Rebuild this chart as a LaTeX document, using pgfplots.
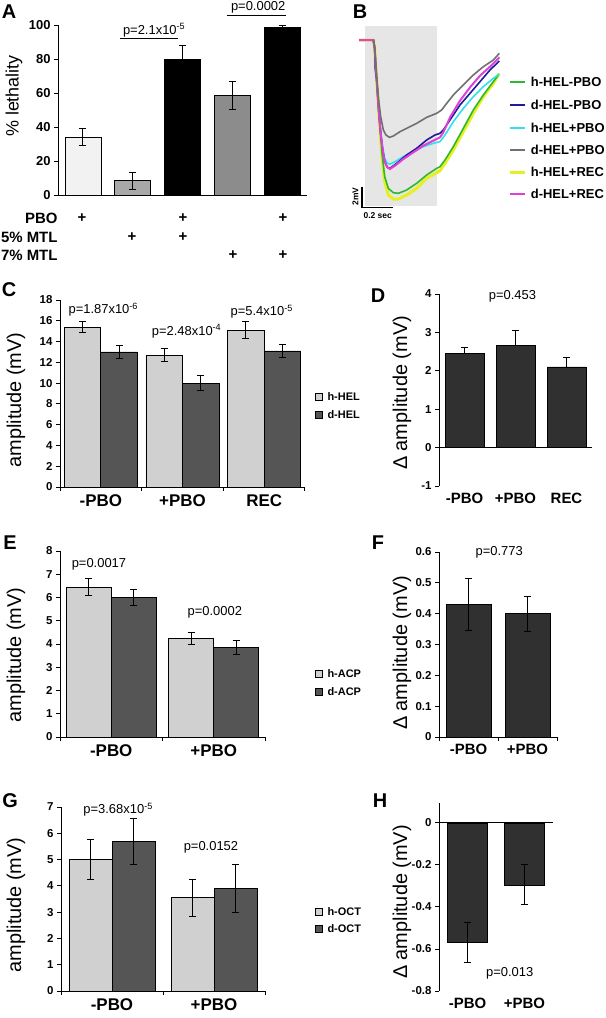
\documentclass[border=0pt]{standalone}
\usepackage{fontspec}
\setmainfont{Liberation Sans}
\usepackage{pgfplots}
\pgfplotsset{compat=1.18}

\definecolor{aone}{HTML}{F2F2F2}
\definecolor{atwo}{HTML}{A8A8A8}
\definecolor{afour}{HTML}{8C8C8C}
\definecolor{lightbar}{HTML}{D0D0D0}
\definecolor{darkbar}{HTML}{555555}
\definecolor{deltabar}{HTML}{303030}
\definecolor{bgshade}{HTML}{E6E6E6}
\definecolor{tgreen}{HTML}{2DB82D}
\definecolor{tblue}{HTML}{1C1C9C}
\definecolor{tcyan}{HTML}{30E0F0}
\definecolor{tgray}{HTML}{707070}
\definecolor{tyellow}{HTML}{E6F020}
\definecolor{tpink}{HTML}{E040D8}

\newcommand\fs[1]{\fontsize{#1}{#1}\selectfont}

\pgfplotsset{
  panel/.style={
    scale only axis, clip=false, anchor=south west,
    axis x line*=bottom, axis y line*=left,
    axis line style={line width=1bp, black},
    tick align=outside,
    major tick length=4bp, minor tick length=4bp,
    tick style={line width=1bp, black},
    major x tick style={draw=none},
    /pgf/number format/assume math mode=true,
    yticklabel style={font=\bfseries\fs{11.5}},
    xticklabel style={font=\bfseries\fs{17}},
    ybar=0pt,
    every axis plot/.append style={draw=black, line width=0.7bp},
    error bars/y dir=both, error bars/y explicit,
    error bars/error mark=-,
    error bars/error bar style={line width=1bp, black},
    error bars/error mark options={rotate=90, mark size=3.5bp, line width=1bp, black},
  },
  delta/.style={
    xticklabel style={font=\bfseries\fs{15}},
  },
}

\begin{document}
\begin{tikzpicture}
\useasboundingbox (0,0) rectangle (606bp,-1018bp);

% ---------------- A
\begin{axis}[panel, at={(58bp,-195bp)}, width=249bp, height=170bp,
  xmin=-0.5, xmax=4.5, ymin=0, ymax=100, ytick={0,20,...,100},
  xtick=\empty, minor xtick={-0.5,0.5,1.5,2.5,3.5,4.5}, bar width=36bp,
  yticklabel style={font=\bfseries\fs{13}}]
  \addplot[fill=aone, bar shift=0pt] coordinates {(0,34) +- (0,5)};
  \addplot[fill=atwo, bar shift=0pt] coordinates {(1,8.5) +- (0,5)};
  \addplot[fill=black, bar shift=0pt] coordinates {(2,80) +- (0,8)};
  \addplot[fill=afour, bar shift=0pt] coordinates {(3,58.5) +- (0,8.3)};
  \addplot[fill=black, bar shift=0pt] coordinates {(4,98.5) +- (0,1.5)};
  \draw[line width=1bp] (axis cs:0.75,91.8) -- (axis cs:1.9,91.8);
  \node[font=\fs{13}] at (axis cs:1.43,97) {p=2.1x10\textsuperscript{-5}};
  \draw[line width=1bp] (axis cs:2.89,105.3) -- (axis cs:4.08,105.3);
  \node[font=\fs{13}] at (axis cs:3.52,110.3) {p=0.0002};
\end{axis}
\node[font=\bfseries\fs{20}] at (9bp,-12bp) {A};
\node[font=\fs{18}, rotate=90] at (14bp,-96bp) {\% lethality};
\begin{scope}[font=\bfseries\fs{15}]
  \node[anchor=east] at (61bp,-218bp) {PBO};
  \node[anchor=east] at (61bp,-237bp) {5\% MTL};
  \node[anchor=east] at (61bp,-255bp) {7\% MTL};
  \node at (82bp,-218bp) {+};
  \node at (183bp,-218bp) {+};
  \node at (283bp,-218bp) {+};
  \node at (132bp,-237bp) {+};
  \node at (183bp,-237bp) {+};
  \node at (233bp,-255bp) {+};
  \node at (283bp,-255bp) {+};
\end{scope}

% ---------------- B
\begin{axis}[scale only axis, hide axis, clip=false, anchor=north west,
  at={(340bp,0bp)}, width=266bp, height=240bp,
  xmin=0, xmax=798, ymin=0, ymax=720, y dir=reverse]
  \fill[bgshade] (axis cs:75,78) rectangle (axis cs:292,618);
  \addplot[tyellow, line width=3bp, no markers] coordinates {
    (57,120) (100,120) (104,145) (110,240) (118,360) (126,470) (134,545)
    (145,585) (160,597) (175,597) (200,585) (230,565) (260,535) (290,518)
    (300,512) (315,490) (340,450) (370,395) (400,340) (430,290) (460,250) (478,220)};
  \addplot[tgreen, line width=1.6bp, no markers] coordinates {
    (57,120) (100,120) (104,145) (110,240) (118,360) (126,460) (134,530)
    (145,565) (160,578) (175,580) (200,570) (230,550) (260,525) (290,505)
    (300,500) (315,480) (340,440) (370,385) (400,330) (430,285) (460,245) (475,225)};
  \addplot[tcyan, line width=1.6bp, no markers] coordinates {
    (57,120) (100,120) (104,145) (110,240) (118,350) (126,430) (134,475)
    (142,490) (150,492) (165,485) (190,470) (220,455) (250,440) (280,430)
    (300,425) (315,405) (340,365) (370,325) (400,290) (430,260) (460,235) (478,222)};
  \addplot[tblue, line width=1.6bp, no markers] coordinates {
    (57,120) (100,120) (104,145) (106,210) (110,240) (116,330) (122,400) (128,450)
    (134,485) (142,502) (150,505) (170,490) (200,465) (230,445) (260,420)
    (285,405) (300,400) (310,390) (330,360) (360,315) (390,280) (420,245) (450,210) (478,183)};
  \addplot[tpink, line width=2bp, no markers] coordinates {
    (57,120) (100,120) (104,145) (110,240) (116,330) (122,400) (128,450)
    (134,485) (142,502) (150,507) (165,497) (190,477) (220,457) (250,437)
    (280,422) (300,412) (310,397) (330,352) (360,302) (390,262) (420,227) (450,200) (478,172)};
  \addplot[tgray, line width=1.6bp, no markers] coordinates {
    (100,120) (104,140) (110,230) (116,300) (122,350) (130,390) (138,405)
    (148,412) (160,408) (180,395) (200,385) (230,370) (260,352) (290,340)
    (305,330) (320,310) (340,285) (370,255) (400,225) (430,200) (460,180) (478,160)};
  % scale bar
  \draw[line width=1.2bp] (axis cs:66,560) -- (axis cs:66,622) -- (axis cs:160,622);
  \node[font=\bfseries\fs{8.5}, rotate=90] at (axis cs:46,590) {2mV};
  \node[font=\bfseries\fs{8.5}] at (axis cs:113,648) {0.2 sec};
  % legend
  \draw[color=tgreen, line width=1.8bp] (axis cs:510,245) -- (axis cs:555,245);
  \node[anchor=west, font=\bfseries\fs{13}] at (axis cs:562,245) {h-HEL-PBO};
  \draw[color=tblue, line width=1.8bp] (axis cs:510,315) -- (axis cs:555,315);
  \node[anchor=west, font=\bfseries\fs{13}] at (axis cs:562,315) {d-HEL-PBO};
  \draw[color=tcyan, line width=1.8bp] (axis cs:510,383) -- (axis cs:555,383);
  \node[anchor=west, font=\bfseries\fs{13}] at (axis cs:562,383) {h-HEL+PBO};
  \draw[color=tgray, line width=1.8bp] (axis cs:510,450) -- (axis cs:555,450);
  \node[anchor=west, font=\bfseries\fs{13}] at (axis cs:562,450) {d-HEL+PBO};
  \draw[color=tyellow, line width=2.5bp] (axis cs:510,517) -- (axis cs:555,517);
  \node[anchor=west, font=\bfseries\fs{13}] at (axis cs:562,517) {h-HEL+REC};
  \draw[color=tpink, line width=2bp] (axis cs:510,582) -- (axis cs:555,582);
  \node[anchor=west, font=\bfseries\fs{13}] at (axis cs:562,582) {d-HEL+REC};
\end{axis}
\node[font=\bfseries\fs{20}] at (360bp,-12bp) {B};

% ---------------- C
\begin{axis}[panel, at={(60bp,-487bp)}, width=245bp, height=187bp,
  xmin=-0.5, xmax=2.5, ymin=0, ymax=18, ytick={0,2,...,18},
  xtick={0,1,2}, xticklabels={-PBO,+PBO,REC},
  minor xtick={-0.5,0.5,1.5,2.5}, bar width=36.5bp]
  \addplot[fill=lightbar] coordinates {(0,15.4) +- (0,0.5) (1,12.7) +- (0,0.6) (2,15.1) +- (0,0.8)};
  \addplot[fill=darkbar] coordinates {(0,13.0) +- (0,0.6) (1,10.0) +- (0,0.7) (2,13.1) +- (0,0.6)};
  \node[font=\fs{13}] at (axis cs:0.03,17.1) {p=1.87x10\textsuperscript{-6}};
  \node[font=\fs{13}] at (axis cs:1.05,15.0) {p=2.48x10\textsuperscript{-4}};
  \node[font=\fs{13}] at (axis cs:1.97,16.9) {p=5.4x10\textsuperscript{-5}};
\end{axis}
\node[font=\bfseries\fs{20}] at (9bp,-290bp) {C};
\node[font=\fs{20}, rotate=90] at (16bp,-400bp) {amplitude (mV)};
\begin{scope}[font=\bfseries\fs{11}]
  \filldraw[fill=lightbar, draw=black, line width=0.6bp] (315bp,-393bp) rectangle ++(7bp,-7bp);
  \node[anchor=west] at (324bp,-396.5bp) {h-HEL};
  \filldraw[fill=darkbar, draw=black, line width=0.6bp] (315bp,-411bp) rectangle ++(7bp,-7bp);
  \node[anchor=west] at (324bp,-414.5bp) {d-HEL};
\end{scope}

% ---------------- D
\begin{axis}[panel, delta, at={(439bp,-486bp)}, width=153bp, height=192bp,
  xmin=-0.5, xmax=2.5, ymin=-1, ymax=4, ytick={-1,0,...,4},
  xtick={0,1,2}, xticklabels={-PBO,+PBO,REC}, x axis line style={draw=none},
  bar width=39bp, error bars/y dir=plus]
  \addplot[fill=deltabar] coordinates {(0,2.45) +- (0,0.15) (1,2.65) +- (0,0.4) (2,2.1) +- (0,0.25)};
  \draw[line width=1bp] (axis cs:-0.5,0) -- (axis cs:2.5,0);
  \node[font=\fs{13}] at (axis cs:0.94,3.95) {p=0.453};
\end{axis}
\node[font=\bfseries\fs{20}] at (378bp,-296bp) {D};
\node[font=\fs{20}, rotate=90] at (402bp,-393bp) {Δ amplitude (mV)};

% ---------------- E
\begin{axis}[panel, at={(60bp,-737bp)}, width=205bp, height=186bp,
  xmin=-0.5, xmax=1.5, ymin=0, ymax=8, ytick={0,1,...,8},
  xtick={0,1}, xticklabels={-PBO,+PBO},
  minor xtick={-0.5,0.5,1.5}, bar width=45bp]
  \addplot[fill=lightbar] coordinates {(0,6.45) +- (0,0.35) (1,4.25) +- (0,0.25)};
  \addplot[fill=darkbar] coordinates {(0,6.0) +- (0,0.35) (1,3.85) +- (0,0.3)};
  \node[font=\fs{13}] at (axis cs:-0.12,7.44) {p=0.0017};
  \node[font=\fs{13}] at (axis cs:1.01,5.38) {p=0.0002};
\end{axis}
\node[font=\bfseries\fs{20}] at (10bp,-543bp) {E};
\node[font=\fs{20}, rotate=90] at (16bp,-655bp) {amplitude (mV)};
\begin{scope}[font=\bfseries\fs{11}]
  \filldraw[fill=lightbar, draw=black, line width=0.6bp] (315bp,-670bp) rectangle ++(7bp,-7bp);
  \node[anchor=west] at (324bp,-673.5bp) {h-ACP};
  \filldraw[fill=darkbar, draw=black, line width=0.6bp] (315bp,-688bp) rectangle ++(7bp,-7bp);
  \node[anchor=west] at (324bp,-691.5bp) {d-ACP};
\end{scope}

% ---------------- F
\begin{axis}[panel, delta, at={(439bp,-737bp)}, width=118bp, height=185bp,
  xmin=-0.5, xmax=1.5, ymin=0, ymax=0.6, ytick={0,0.1,0.2,0.3,0.4,0.5,0.6},
  xtick={0,1}, xticklabels={-PBO,+PBO},
  minor xtick={-0.5,0.5,1.5}, bar width=45bp]
  \addplot[fill=deltabar] coordinates {(0,0.43) +- (0,0.085) (1,0.40) +- (0,0.057)};
  \node[font=\fs{13}] at (axis cs:0.52,0.6) {p=0.773};
\end{axis}
\node[font=\bfseries\fs{20}] at (378bp,-543bp) {F};
\node[font=\fs{20}, rotate=90] at (402bp,-653bp) {Δ amplitude (mV)};

% ---------------- G
\begin{axis}[panel, at={(61bp,-991bp)}, width=204bp, height=184bp,
  xmin=-0.5, xmax=1.5, ymin=0, ymax=7, ytick={0,1,...,7},
  xtick={0,1}, xticklabels={-PBO,+PBO},
  minor xtick={-0.5,0.5,1.5}, bar width=43bp]
  \addplot[fill=lightbar] coordinates {(0,5.0) +- (0,0.75) (1,3.55) +- (0,0.7)};
  \addplot[fill=darkbar] coordinates {(0,5.7) +- (0,0.88) (1,3.9) +- (0,0.9)};
  \node[font=\fs{13}] at (axis cs:0.06,6.89) {p=3.68x10\textsuperscript{-5}};
  \node[font=\fs{13}] at (axis cs:0.97,5.48) {p=0.0152};
\end{axis}
\node[font=\bfseries\fs{20}] at (10bp,-801bp) {G};
\node[font=\fs{20}, rotate=90] at (16bp,-905bp) {amplitude (mV)};
\begin{scope}[font=\bfseries\fs{11}]
  \filldraw[fill=lightbar, draw=black, line width=0.6bp] (315bp,-908bp) rectangle ++(7bp,-7bp);
  \node[anchor=west] at (324bp,-911.5bp) {h-OCT};
  \filldraw[fill=darkbar, draw=black, line width=0.6bp] (315bp,-925bp) rectangle ++(7bp,-7bp);
  \node[anchor=west] at (324bp,-928.5bp) {d-OCT};
\end{scope}

% ---------------- H
\begin{axis}[panel, delta, at={(439bp,-991bp)}, width=114bp, height=188bp,
  xmin=-0.5, xmax=1.5, ymin=-0.8, ymax=0.095, ytick={-0.8,-0.6,-0.4,-0.2,0},
  xtick={0,1}, xticklabels={-PBO,+PBO}, x axis line style={draw=none},
  bar width=40bp]
  \addplot[fill=deltabar] coordinates {(0,-0.57) +- (0,0.095) (1,-0.295) +- (0,0.095)};
  \draw[line width=1bp] (axis cs:-0.5,0) -- (axis cs:1.5,0);
  \node[font=\fs{13}] at (axis cs:0.74,-0.714) {p=0.013};
\end{axis}
\node[font=\bfseries\fs{20}] at (380bp,-801bp) {H};
\node[font=\fs{20}, rotate=90] at (402bp,-902bp) {Δ amplitude (mV)};

\end{tikzpicture}
\end{document}
